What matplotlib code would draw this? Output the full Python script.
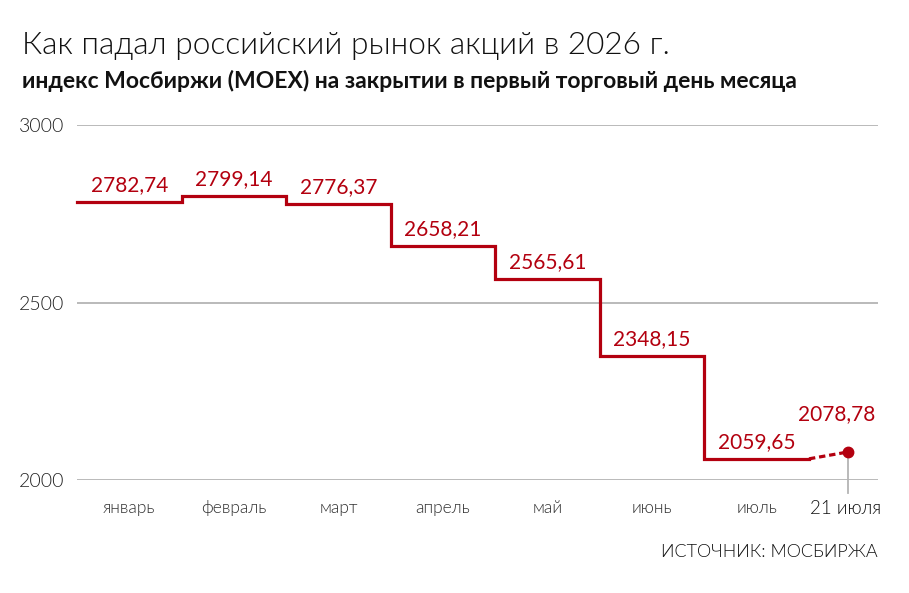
import numpy as np
import matplotlib
matplotlib.use("Agg")
from matplotlib import pyplot as plt
import matplotlib.transforms as mtransforms

# data
months = ["январь", "февраль", "март", "апрель", "май", "июнь", "июль"]
values = [2782.74, 2799.14, 2776.37, 2658.21, 2565.61, 2348.15, 2059.65]
last_label = "21 июля"
last_value = 2078.78
last_pos = 7.37          # position of 21 July on the month scale
yticks = [2000, 2500, 3000]

RED = "#b3000f"
GRID = "#b4b4b4"
FONT = "Lato"

W, H = 909, 593
fig = plt.figure(figsize=(W / 100, H / 100), dpi=100)
ax = fig.add_axes([77 / W, 1 - 480 / H, (878 - 77) / W, (480 - 125) / H])

def fmt(v):
    return f"{v:.2f}".replace(".", ",")

# step line
x = np.arange(len(values) + 1)
y = values + [values[-1]]
ax.step(x, y, where="post", color=RED, lw=2.3, solid_joinstyle="miter", zorder=3, clip_on=False)

# dashed tail to 21 July
ax.plot([len(values), last_pos], [values[-1], last_value], color=RED, lw=2.3,
        ls=(0, (2, 1.2)), zorder=3, clip_on=False)
ax.plot([last_pos, last_pos], [1963, last_value], color=GRID, lw=1.3, zorder=2, clip_on=False)
ax.plot(last_pos, last_value, "o", color=RED, ms=7.5, zorder=4, clip_on=False)

# value labels
for i, v in enumerate(values):
    ax.annotate(fmt(v), (i + 0.5, v), xytext=(0, 5), textcoords="offset points",
                ha="center", va="bottom", color=RED, fontsize=15, family=FONT)
ax.annotate(fmt(last_value), (last_pos, last_value), xytext=(-8, 20), textcoords="offset points",
            ha="center", va="bottom", color=RED, fontsize=15, family=FONT)

# axes
ax.set_xlim(0, 7.66)
ax.set_ylim(2000, 3000)
ax.set_yticks(yticks)
ax.set_yticklabels([str(t) for t in yticks], fontsize=14, color="#222222", family=FONT, weight=300)
ax.tick_params(axis="y", length=0, pad=9)
ax.set_xticks([])
for s in ax.spines.values():
    s.set_visible(False)
ax.grid(axis="y", color=GRID, lw=1.3)
ax.set_axisbelow(True)

trans = mtransforms.blended_transform_factory(ax.transData, ax.transAxes)
for i, m in enumerate(months):
    ax.text(i + 0.5, -0.08, m, transform=trans, ha="center", va="center",
            fontsize=12.5, color="#333333", family=FONT, weight=300)
ax.text(last_pos - 0.02, -0.08, last_label, transform=trans, ha="center", va="center",
        fontsize=13.5, color="#111111", family=FONT, weight=300)

# titles
fig.text(22 / W, 1 - 46 / H, "Как падал российский рынок акций в 2026 г.",
         fontsize=22.8, family=FONT, weight=300, va="center", color="#111111")
fig.text(22 / W, 1 - 81 / H, "индекс Мосбиржи (MOEX) на закрытии в первый торговый день месяца",
         fontsize=16.5, family=FONT, weight=700, va="center", color="#111111")
fig.text(878 / W, 1 - 552 / H, "ИСТОЧНИК: МОСБИРЖА", fontsize=13, family=FONT,
         weight=300, ha="right", va="center", color="#111111")

fig.savefig("out.png", dpi=100)
